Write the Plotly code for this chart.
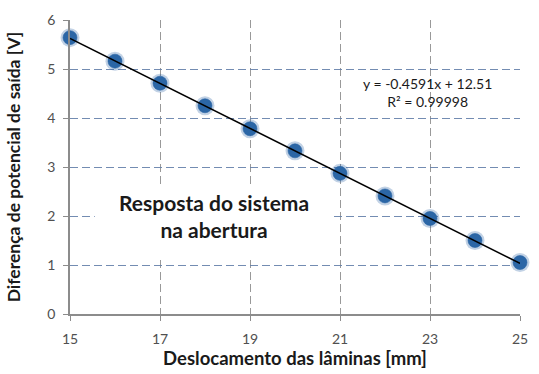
import plotly.graph_objects as go

# Measured response: blade displacement [mm] vs output voltage [V]
deslocamento = [15, 16, 17, 18, 19, 20, 21, 22, 23, 24, 25]
tensao = [5.64, 5.16, 4.71, 4.25, 3.78, 3.33, 2.87, 2.41, 1.95, 1.50, 1.05]

# Linear fit reported on the chart
inclinacao = -0.4591
intercepto = 12.51
r2 = 0.99998

x_ticks = [15, 17, 19, 21, 23, 25]
y_ticks = [0, 1, 2, 3, 4, 5, 6]

FONT = "Lato, 'Open Sans', sans-serif"
GRID_H = "rgba(100,128,170,0.9)"
GRID_V = "rgba(135,135,135,0.85)"
AXIS = "#8c8c8c"

fig = go.Figure()

# soft halo behind each point
fig.add_trace(go.Scatter(
    x=deslocamento, y=tensao, mode="markers",
    marker=dict(size=19, color="rgba(35,95,160,0.28)", line=dict(width=0)),
    hoverinfo="skip", showlegend=False, cliponaxis=False,
))
fig.add_trace(go.Scatter(
    x=deslocamento, y=tensao, mode="markers",
    marker=dict(size=14, color="#2b66a6", line=dict(width=1, color="rgba(40,100,165,0.6)")),
    showlegend=False, cliponaxis=False,
))

# trend line from the fitted equation
x_fit = [deslocamento[0], deslocamento[-1]]
y_fit = [inclinacao * v + intercepto for v in x_fit]
fig.add_trace(go.Scatter(
    x=x_fit, y=y_fit, mode="lines",
    line=dict(color="black", width=1.5),
    showlegend=False, cliponaxis=False,
))

# white label box covering the grid
fig.add_shape(type="rect", xref="x", yref="y",
              x0=15.55, x1=20.83, y0=1.13, y1=2.6,
              fillcolor="white", line=dict(width=0), layer="above")

fig.add_annotation(
    x=18.2, y=2.01, xref="x", yref="y",
    text="<b>Resposta do sistema<br>na abertura</b>",
    showarrow=False, align="center",
    font=dict(family=FONT, size=21, color="#1a1a1a"),
)

fig.add_annotation(
    x=22.95, y=4.53, xref="x", yref="y",
    text=f"y = {inclinacao}x + {intercepto}<br>R² = {r2}",
    showarrow=False, align="center",
    font=dict(family=FONT, size=14, color="#1a1a1a"),
)

fig.update_layout(
    width=539, height=374,
    margin=dict(l=70, r=11, t=13, b=59),
    paper_bgcolor="white", plot_bgcolor="white",
    font=dict(family=FONT, color="#404040"),
    xaxis=dict(
        range=[15, 25], tickvals=x_ticks, ticks="outside", ticklen=5,
        ticklabelstandoff=6,
        tickcolor=AXIS, showline=True, linecolor=AXIS, linewidth=1.5,
        showgrid=True, gridcolor=GRID_V, griddash="8px,4px", gridwidth=1,
        zeroline=False, tickfont=dict(size=14, color="#505050"),
        title=dict(text="<b>Deslocamento das lâminas [mm]</b>",
                   font=dict(size=18.5, color="#1a1a1a"), standoff=4),
    ),
    yaxis=dict(
        range=[0, 6], tickvals=y_ticks, ticks="outside", ticklen=5,
        ticklabelstandoff=5,
        tickcolor=AXIS, showline=True, linecolor=AXIS, linewidth=1.5,
        showgrid=True, gridcolor=GRID_H, griddash="8px,4px", gridwidth=1,
        zeroline=False, tickfont=dict(size=14, color="#505050"),
        title=dict(text="<b>Diferença de potencial de saída [V]</b>",
                   font=dict(size=17.5, color="#1a1a1a"), standoff=22),
    ),
)

fig.write_html("out.html")
